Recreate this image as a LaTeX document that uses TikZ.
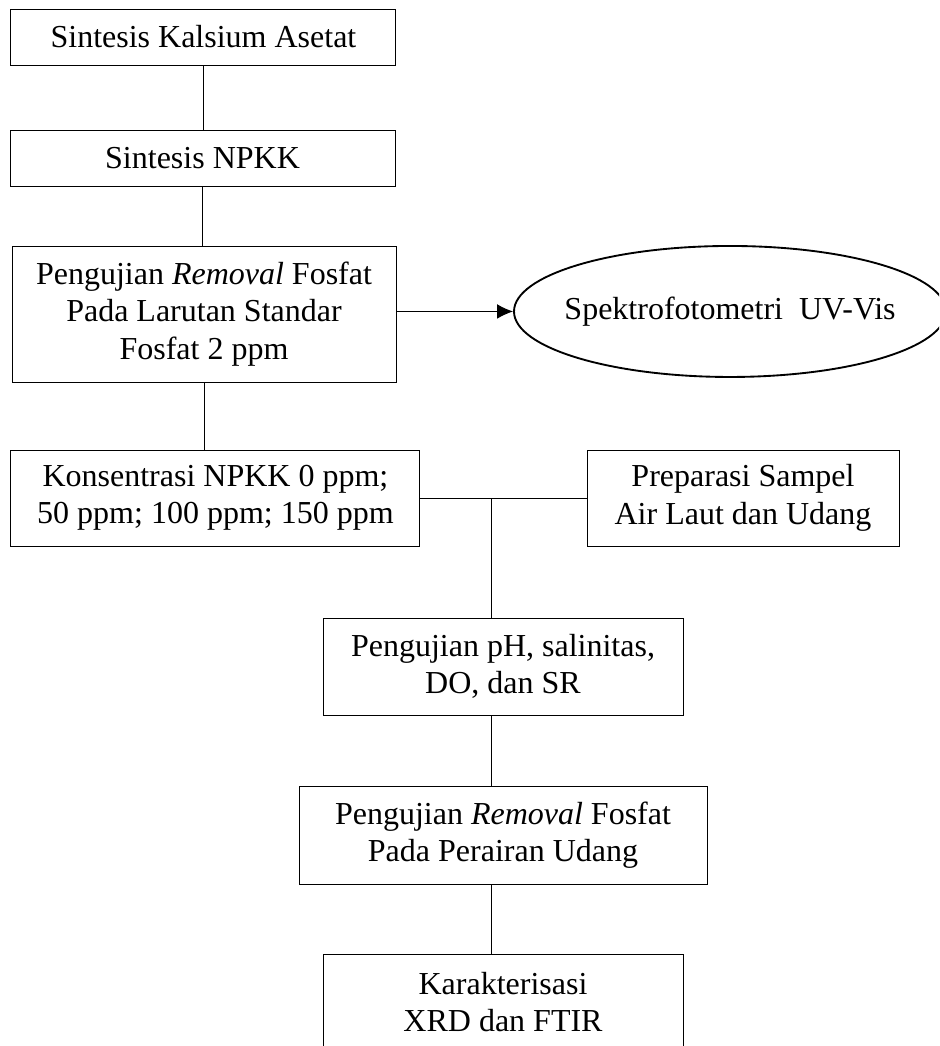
\documentclass[tikz,border=0pt]{standalone}
\usepackage{fontspec}
\setmainfont{Liberation Serif}
\usetikzlibrary{positioning,arrows.meta,shapes.geometric,calc}

\begin{document}
\begin{tikzpicture}
  [
    x=1pt, y=-1pt,
    every node/.style={font=\fontsize{24}{28}\selectfont, align=center, inner sep=0pt},
    box/.style={draw, line width=0.75pt, rectangle},
    oval/.style={draw, line width=1.4pt, ellipse},
    link/.style={line width=0.75pt},
    pfeil/.style={link, -{Latex[length=12pt,width=11pt]}}
  ]

  % Rahmen
  \useasboundingbox (0,0) rectangle (704.25,784.5);
  \clip (0,0) rectangle (704.25,784.5);

  % obere Spalte
  \node[box, minimum width=288.75pt, minimum height=42pt] (kalsium) at (152.6,27.75) {Sintesis Kalsium Asetat};
  \node[box, minimum width=288.75pt, minimum height=42pt] (npkk) at (151.9,118.5) {Sintesis NPKK};
  \node[box, minimum width=288pt, minimum height=102pt] (standar) at (153,235.5)
    {Pengujian \textit{Removal} Fosfat\\Pada Larutan Standar\\Fosfat 2 ppm};
  \node[oval, minimum width=324pt, minimum height=98.25pt] (uvvis) at (547.5,233.6)
    {\makebox[0pt]{Spektrofotometri~ UV-Vis}};

  % mittlere Zeile
  \node[box, minimum width=306.75pt, minimum height=72pt] (konsen) at (161.6,373.5)
    {Konsentrasi NPKK 0 ppm;\\50 ppm; 100 ppm; 150 ppm};
  \node[box, minimum width=234pt, minimum height=72pt] (sampel) at (557.25,373.5)
    {Preparasi Sampel\\Air Laut dan Udang};
  \coordinate (mitte) at (368.25,373.5);

  % untere Spalte
  \node[box, minimum width=270pt, minimum height=72.75pt] (ph) at (377.25,499.9)
    {Pengujian pH, salinitas,\\DO, dan SR};
  \node[box, minimum width=306pt, minimum height=73.5pt] (udang) at (377.25,626.25)
    {Pengujian \textit{Removal} Fosfat\\Pada Perairan Udang};
  \node[box, minimum width=270pt, minimum height=72pt] (karakter) at (377.25,751.5)
    {Karakterisasi\\XRD dan FTIR};

  % Verbindungen
  \draw[link] (kalsium.south) -- (kalsium.south |- npkk.north);
  \draw[link] (npkk.south) -- (npkk.south |- standar.north);
  \draw[pfeil] (standar.east |- uvvis.west) -- (uvvis.west);
  \draw[link] (standar.south) -- (standar.south |- konsen.north);
  \draw[link] (konsen.east) -- (sampel.west);
  \draw[link] (mitte) -- (mitte |- ph.north);
  \draw[link] (mitte |- ph.south) -- (mitte |- udang.north);
  \draw[link] (mitte |- udang.south) -- (mitte |- karakter.north);
\end{tikzpicture}
\end{document}
